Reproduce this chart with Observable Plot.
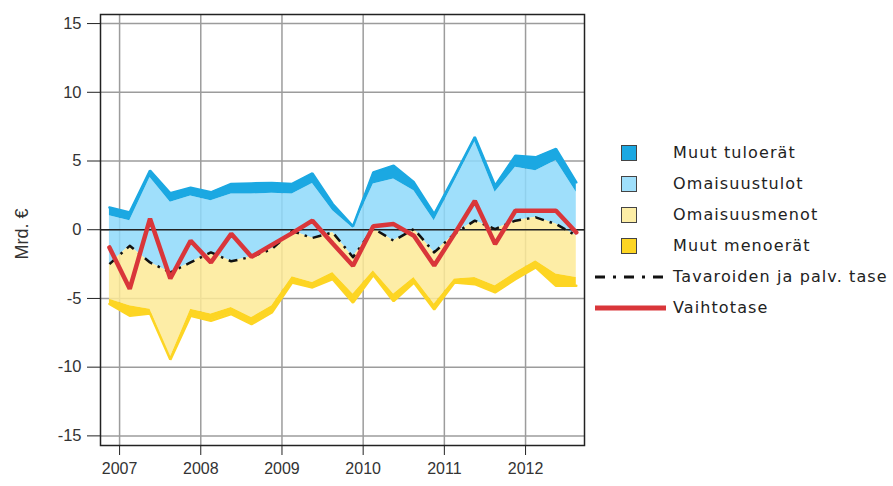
<!DOCTYPE html>
<html>
<head>
<meta charset="utf-8">
<script src="https://cdn.jsdelivr.net/npm/d3@7"></script>
<script src="https://cdn.jsdelivr.net/npm/@observablehq/plot@0.6"></script>
<style>
  html, body { margin: 0; padding: 0; background: #fff; }
  #wrap { position: relative; width: 893px; height: 486px; overflow: hidden; }
  #chart { position: absolute; left: 0; top: 0; }
  .leg { position: absolute; font-family: "DejaVu Sans", Verdana, sans-serif; font-size: 16px; letter-spacing: 1.1px; color: #222; white-space: nowrap; line-height: 16px; }
  .sw { position: absolute; width: 14px; height: 14px; border: 1px solid #444; }
</style>
</head>
<body>
<div id="wrap"><div id="chart"></div><div id="legend"></div></div>
<script>
// Quarterly observations (plotted at quarter mid-points)
const quarters = ["2006Q4","2007Q1","2007Q2","2007Q3","2007Q4","2008Q1","2008Q2","2008Q3","2008Q4",
  "2009Q1","2009Q2","2009Q3","2009Q4","2010Q1","2010Q2","2010Q3","2010Q4",
  "2011Q1","2011Q2","2011Q3","2011Q4","2012Q1","2012Q2","2012Q3"];

// Tavaroiden ja palv. tase (base line of the stacks)
const tase = [-2.5,-1.17,-2.38,-3.11,-2.38,-1.65,-2.3,-1.97,-1.41,-0.1,-0.6,-0.2,
  -2.0,0.1,-0.8,0.05,-1.65,-0.3,0.66,0.05,0.66,0.9,0.41,-0.44];
// Omaisuustulot (stacked above tase)
const omaisuustulot = [3.52,1.83,6.18,5.11,4.83,3.76,4.9,4.57,4.06,2.7,3.97,1.58,
  2.1,3.23,4.49,2.79,2.31,3.8,5.74,2.67,3.88,3.4,4.62,3.16];
// Muut tuloerät (stacked above Omaisuustulot)
const muutTuloerat = [0.6,0.6,0.5,0.65,0.6,0.61,0.73,0.77,0.75,0.73,0.73,0.49,
  0.15,0.84,0.97,0.61,0.48,0.4,0.35,0.48,0.85,0.97,0.85,0.73];
// Omaisuusmenot (stacked below tase)
const omaisuusmenot = [2.55,4.36,3.4,6.19,3.4,4.49,3.36,4.42,4.12,3.32,3.24,2.91,
  2.68,3.09,3.88,3.52,3.76,3.29,4.13,4.13,3.77,3.16,3.64,3.03];
// Muut menoerät (stacked below Omaisuusmenot)
const muutMenoerat = [0.35,0.73,0.32,0.15,0.48,0.49,0.48,0.48,0.49,0.42,0.36,0.49,
  0.62,0.31,0.52,0.37,0.39,0.25,0.49,0.48,0.49,0.48,0.85,0.61];
// Vaihtotase
const vaihtotase = [-1.29,-4.3,0.8,-3.55,-0.8,-2.38,-0.3,-1.97,-1.1,-0.25,0.66,-1.0,
  -2.62,0.25,0.41,-0.44,-2.6,-0.3,2.1,-1.04,1.38,1.38,1.38,-0.2];

const yearTicks = [2007, 2008, 2009, 2010, 2011, 2012];
const yTicks = [-15, -10, -5, 0, 5, 10, 15];
const yLabel = "Mrd. €";

const legendItems = [
  {label: "Muut tuloerät", type: "box", color: "#1ba8e2"},
  {label: "Omaisuustulot", type: "box", color: "#9fdffb"},
  {label: "Omaisuusmenot", type: "box", color: "#fdeea6"},
  {label: "Muut menoerät", type: "box", color: "#fdd523"},
  {label: "Tavaroiden ja palv. tase", type: "dash", color: "#111"},
  {label: "Vaihtotase", type: "line", color: "#d9363a"}
];

const darkBlue = "#1ba8e2", lightBlue = "#8ed9fa", lightYellow = "#fdea96", gold = "#fdd523", red = "#d9363a";

const data = quarters.map((q, i) => {
  const [yy, qq] = q.split("Q");
  const t = +yy + (+qq - 0.5) / 4;
  const lt = tase[i] + omaisuustulot[i];
  const dt = lt + muutTuloerat[i];
  const gt = tase[i] - omaisuusmenot[i];
  const gb = gt - muutMenoerat[i];
  return {t, tase: tase[i], lt, dt, gt, gb, vaihtotase: vaihtotase[i]};
});

const plot = Plot.plot({
  width: 600,
  height: 486,
  marginLeft: 100,
  marginRight: 16,
  marginTop: 14,
  marginBottom: 41,
  style: {fontFamily: "'Liberation Sans', Arial, sans-serif", fontSize: "16px", color: "#333", background: "transparent", overflow: "visible"},
  x: {domain: [2006.765, 2012.726]},
  y: {domain: [-15.7, 15.66]},
  marks: [
    Plot.gridY(yTicks, {stroke: "#9c9c9c", strokeWidth: 1.5, strokeOpacity: 1}),
    Plot.gridX(yearTicks, {stroke: "#9c9c9c", strokeWidth: 1.5, strokeOpacity: 1}),
    Plot.areaY(data, {x: "t", y1: "tase", y2: "lt", fill: lightBlue, fillOpacity: 0.85}),
    Plot.areaY(data, {x: "t", y1: "lt", y2: "dt", fill: darkBlue}),
    Plot.areaY(data, {x: "t", y1: "tase", y2: "gt", fill: lightYellow, fillOpacity: 0.85}),
    Plot.areaY(data, {x: "t", y1: "gt", y2: "gb", fill: gold}),
    Plot.lineY(data, {x: "t", y: "dt", stroke: darkBlue, strokeWidth: 2.5, strokeLinejoin: "miter"}),
    Plot.lineY(data, {x: "t", y: "gb", stroke: gold, strokeWidth: 2.5, strokeLinejoin: "miter"}),
    Plot.ruleY([0], {stroke: "#222", strokeWidth: 1.5}),
    Plot.lineY(data, {x: "t", y: "tase", stroke: "#111", strokeWidth: 2.5, strokeDasharray: "9,6,2.5,6", strokeLinecap: "butt"}),
    Plot.lineY(data, {x: "t", y: "vaihtotase", stroke: red, strokeWidth: 4.5, strokeLinejoin: "miter"}),
    Plot.frame({stroke: "#222", strokeWidth: 1.5}),
    Plot.axisY(yTicks, {tickSize: 13, tickPadding: 6, fontSize: 16.5, label: null, stroke: "#222", tickFormat: d => String(d)}),
    Plot.axisX(yearTicks, {tickSize: 10, tickPadding: 7, fontSize: 16, label: null, tickFormat: d => String(d), stroke: "#222"}),
    Plot.text([yLabel], {frameAnchor: "left", textAnchor: "middle", dx: -78, dy: 4, rotate: -90, fontSize: 18, fill: "#333"})
  ]
});
document.getElementById("chart").appendChild(plot);

// Legend
const leg = document.getElementById("legend");
const rowY0 = 153, rowStep = 30.9;
legendItems.forEach((d, i) => {
  const cy = rowY0 + i * rowStep;
  if (d.type === "box") {
    const s = document.createElement("div");
    s.className = "sw";
    s.style.left = (629 - 8) + "px";
    s.style.top = (cy - 8) + "px";
    s.style.background = d.color;
    leg.appendChild(s);
  } else {
    const svgNS = "http://www.w3.org/2000/svg";
    const svg = document.createElementNS(svgNS, "svg");
    svg.setAttribute("width", 80); svg.setAttribute("height", 10);
    svg.style.position = "absolute"; svg.style.left = "592px"; svg.style.top = (cy - 5) + "px";
    const ln = document.createElementNS(svgNS, "line");
    ln.setAttribute("x1", 3); ln.setAttribute("x2", 74); ln.setAttribute("y1", 5); ln.setAttribute("y2", 5);
    ln.setAttribute("stroke", d.color);
    if (d.type === "dash") { ln.setAttribute("stroke-width", 3); ln.setAttribute("stroke-dasharray", "10,8,3,8"); }
    else { ln.setAttribute("stroke-width", 5); }
    svg.appendChild(ln);
    leg.appendChild(svg);
  }
  const t = document.createElement("div");
  t.className = "leg";
  t.textContent = d.label;
  t.style.left = "673px";
  t.style.top = (cy - 8) + "px";
  leg.appendChild(t);
});
</script>
</body>
</html>
